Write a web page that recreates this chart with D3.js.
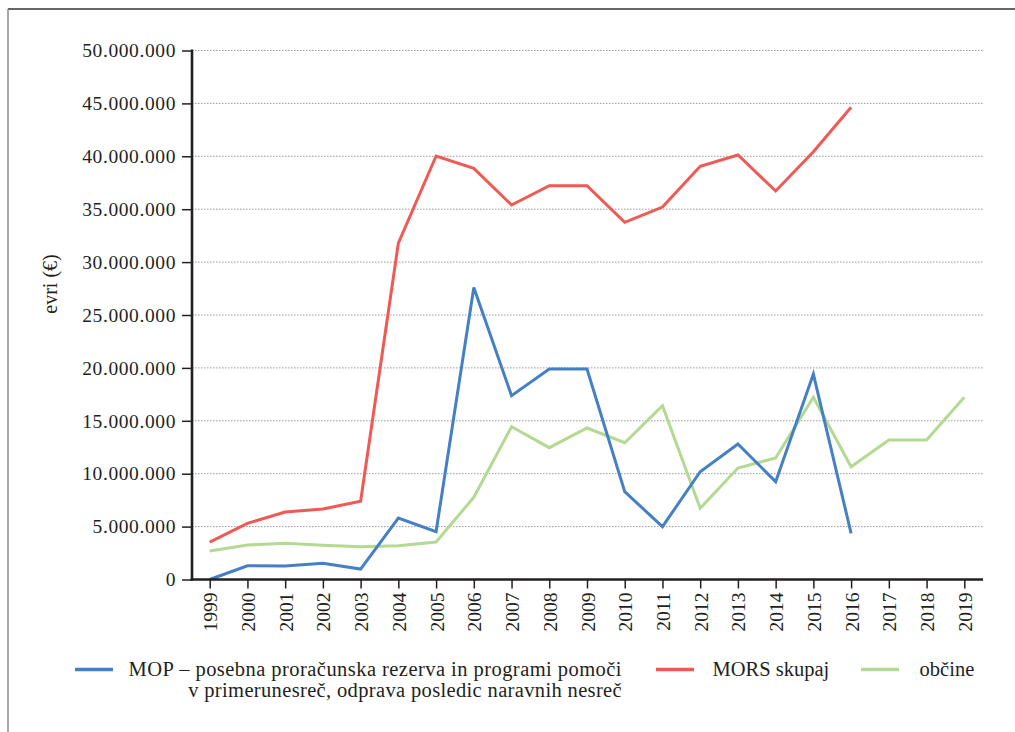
<!DOCTYPE html>
<html>
<head>
<meta charset="utf-8">
<script src="https://cdn.jsdelivr.net/npm/d3@7/dist/d3.min.js"></script>
<style>
  html, body { margin: 0; padding: 0; background: #fff; }
  svg { display: block; }
  text { font-family: "Liberation Serif", "DejaVu Serif", serif; fill: #231f20; }
</style>
</head>
<body>
<svg id="chart" width="1015" height="732"></svg>
<script>
const years = ["1999","2000","2001","2002","2003","2004","2005","2006","2007","2008","2009","2010","2011","2012","2013","2014","2015","2016","2017","2018","2019"];
const mopValues = [0, 1300000, 1280000, 1530000, 990000, 5810000, 4520000, 27600000, 17370000, 19900000, 19900000, 8300000, 4990000, 10190000, 12810000, 9250000, 19420000, 4360000, null, null, null];
const morsValues = [3540000, 5310000, 6380000, 6660000, 7390000, 31780000, 40030000, 38860000, 35400000, 37220000, 37220000, 33760000, 35200000, 39050000, 40120000, 36720000, 40430000, 44630000, null, null, null];
const obcineValues = [2690000, 3260000, 3420000, 3230000, 3100000, 3200000, 3540000, 7770000, 14440000, 12460000, 14320000, 12930000, 16430000, 6730000, 10540000, 11480000, 17220000, 10660000, 13190000, 13190000, 17220000];
const yTicks = [0, 5000000, 10000000, 15000000, 20000000, 25000000, 30000000, 35000000, 40000000, 45000000, 50000000];
const seriesNames = ["MOP – posebna proračunska rezerva in programi pomoči", "v primerunesreč, odprava posledic naravnih nesreč", "MORS skupaj", "občine"];
const yTitle = "evri (€)";

const colors = { mop: "#4580c4", mors: "#f05a55", obcine: "#b3d993" };
const ink = "#231f20";

const svg = d3.select("#chart");

// frame
svg.append("line").attr("x1", 8).attr("x2", 1015).attr("y1", 9).attr("y2", 9)
  .attr("stroke", "#333").attr("stroke-width", 1.5);
svg.append("line").attr("x1", 8).attr("x2", 8).attr("y1", 9).attr("y2", 732)
  .attr("stroke", "#8a8a8a").attr("stroke-width", 1.5);

const x0 = 192, x1 = 983, yTop = 50.5, yBot = 579.5;
const x = d3.scalePoint().domain(years).range([209.7, 964.3]);
const y = d3.scaleLinear().domain([0, 50000000]).range([yBot, yTop]);

const loc = d3.formatLocale({ decimal: ",", thousands: ".", grouping: [3], currency: ["", "€"] });
const fmt = loc.format(",");

// gridlines
svg.append("g").selectAll("line").data(yTicks.filter(d => d > 0)).join("line")
  .attr("x1", x0).attr("x2", x1)
  .attr("y1", d => y(d)).attr("y2", d => y(d))
  .attr("stroke", "#9a9a9a").attr("stroke-width", 1)
  .attr("stroke-dasharray", "1.5,1.5");

// lines
const lineGen = d3.line().defined(d => d.v !== null).x(d => x(d.year)).y(d => y(d.v));
function drawSeries(vals, color) {
  const data = years.map((yr, i) => ({ year: yr, v: vals[i] }));
  svg.append("path").datum(data).attr("d", lineGen)
    .attr("fill", "none").attr("stroke", color).attr("stroke-width", 3)
    .attr("stroke-linejoin", "miter");
}
drawSeries(obcineValues, colors.obcine);
drawSeries(mopValues, colors.mop);
drawSeries(morsValues, colors.mors);

// y axis
const yAxis = svg.append("g").attr("transform", `translate(${x0},0)`)
  .call(d3.axisLeft(y).tickValues(yTicks).tickFormat(fmt).tickSize(10).tickPadding(6));
yAxis.select(".domain").remove();
yAxis.selectAll(".tick line").attr("stroke", ink).attr("stroke-width", 1.5);
yAxis.selectAll(".tick text").attr("font-size", "19.5px").attr("fill", ink)
  .attr("font-family", "Liberation Serif").attr("letter-spacing", "0.6px");
svg.append("line").attr("x1", x0).attr("x2", x0).attr("y1", yTop - 1).attr("y2", yBot + 1.2)
  .attr("stroke", ink).attr("stroke-width", 2.6);

// x axis
const xAxis = svg.append("g").attr("transform", `translate(0,${yBot})`)
  .call(d3.axisBottom(x).tickSize(9).tickPadding(0));
xAxis.select(".domain").remove();
xAxis.selectAll(".tick line").attr("stroke", ink).attr("stroke-width", 1.5);
xAxis.selectAll(".tick text")
  .attr("font-size", "19.5px").attr("font-family", "Liberation Serif").attr("fill", ink)
  .attr("x", 0).attr("y", 0).attr("dy", 0)
  .attr("text-anchor", "end")
  .attr("transform", "translate(7,13) rotate(-90)");
svg.append("line").attr("x1", x0 - 1.3).attr("x2", x1).attr("y1", yBot).attr("y2", yBot)
  .attr("stroke", ink).attr("stroke-width", 2.6);

// y title
svg.append("text").attr("transform", "translate(57,284) rotate(-90)")
  .attr("text-anchor", "middle").attr("font-size", "20px").text(yTitle);

// legend
const ly = 669.5;
svg.append("line").attr("x1", 75).attr("x2", 113).attr("y1", ly).attr("y2", ly)
  .attr("stroke", colors.mop).attr("stroke-width", 3.5);
svg.append("text").attr("x", 622).attr("y", 676).attr("text-anchor", "end")
  .attr("font-size", "20.5px").attr("letter-spacing", "0.45px").text(seriesNames[0]);
svg.append("text").attr("x", 622).attr("y", 697).attr("text-anchor", "end")
  .attr("font-size", "20.5px").attr("letter-spacing", "0.35px").text(seriesNames[1]);
svg.append("line").attr("x1", 656).attr("x2", 694).attr("y1", ly).attr("y2", ly)
  .attr("stroke", colors.mors).attr("stroke-width", 3.5);
svg.append("text").attr("x", 712.5).attr("y", 676).attr("font-size", "20.5px").text(seriesNames[2]);
svg.append("line").attr("x1", 861).attr("x2", 899).attr("y1", ly).attr("y2", ly)
  .attr("stroke", colors.obcine).attr("stroke-width", 3.5);
svg.append("text").attr("x", 919.6).attr("y", 676).attr("font-size", "20.5px").text(seriesNames[3]);
</script>
</body>
</html>
